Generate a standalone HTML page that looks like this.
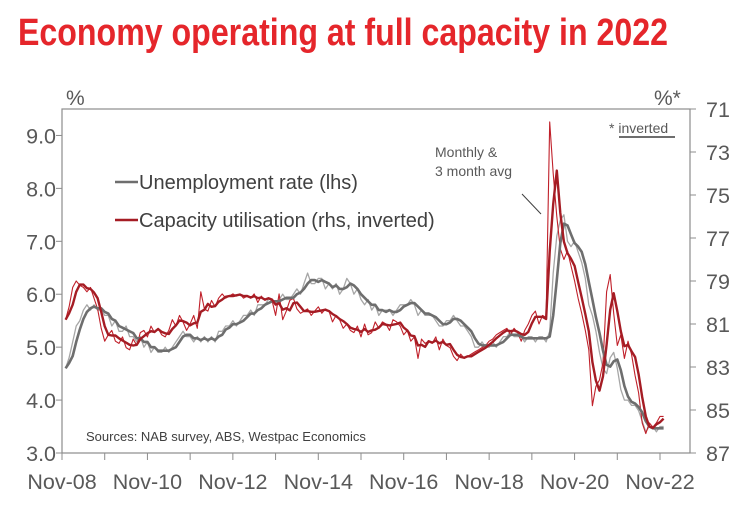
<!DOCTYPE html>
<html><head><meta charset="utf-8"><style>
body{margin:0;background:#fff;width:740px;height:508px;overflow:hidden}
svg{display:block;font-family:"Liberation Sans",sans-serif}
</style></head><body>
<svg id="c" width="740" height="508">
<text x="18" y="45" font-family="'Liberation Sans Narrow','Liberation Sans',sans-serif" font-weight="bold" font-size="38" fill="#e5262b" textLength="650" lengthAdjust="spacingAndGlyphs">Economy operating at full capacity in 2022</text>
</svg>
<script>
const startLabel = ["Nov-08","Nov-10","Nov-12","Nov-14","Nov-16","Nov-18","Nov-20","Nov-22"];
const leftTicks = [3,4,5,6,7,8,9];
const rightTicks = [71,73,75,77,79,81,83,85,87];
const unempMonthly = [
4.6,4.8,5.1,5.4,5.5,5.7,5.8,5.7,5.8,5.7,5.7,5.6,
5.6,5.4,5.5,5.3,5.3,5.4,5.2,5.2,5.1,5.2,5.0,5.1,
4.9,5.0,4.9,4.9,5.0,4.9,5.0,5.1,5.2,5.3,5.2,5.2,
5.1,5.2,5.1,5.2,5.1,5.2,5.1,5.3,5.3,5.4,5.4,5.5,
5.4,5.5,5.6,5.6,5.7,5.6,5.8,5.8,5.8,5.9,5.9,5.8,
5.9,6.0,5.9,5.9,6.0,6.1,6.0,6.2,6.4,6.2,6.2,6.3,
6.3,6.1,6.2,6.1,6.2,6.0,6.1,6.3,6.2,6.0,6.1,5.9,
5.8,5.9,5.7,5.8,5.6,5.7,5.7,5.7,5.6,5.7,5.8,5.8,
5.8,5.9,5.8,5.6,5.7,5.6,5.6,5.6,5.5,5.4,5.4,5.5,
5.5,5.6,5.5,5.4,5.4,5.3,5.2,5.0,5.0,5.1,5.0,5.0,
5.1,5.0,5.1,5.2,5.2,5.3,5.2,5.2,5.2,5.1,5.2,5.2,
5.1,5.2,5.2,5.1,5.3,6.4,7.1,7.4,7.5,7.0,6.9,7.0,
6.8,6.6,6.3,5.8,5.6,5.3,4.9,4.6,4.5,4.8,4.9,4.6,
4.2,4.0,4.0,3.9,3.9,3.8,3.6,3.4,3.5,3.5,3.4,3.5,
3.5];
const capMonthly = [
80.8,80.2,79.3,79.0,79.2,79.3,79.5,79.3,79.8,80.3,81.2,81.8,
81.5,81.3,81.8,81.9,81.6,82.1,82.2,81.7,82.0,81.4,81.3,81.6,
81.1,81.4,81.2,81.5,81.6,81.3,80.8,81.1,80.6,80.9,81.3,81.0,
80.6,81.2,79.5,80.3,80.4,79.9,80.2,79.8,79.6,79.8,79.7,79.6,
79.7,79.6,79.8,79.7,79.8,79.6,80.0,79.7,79.9,79.8,79.9,80.6,
79.6,80.8,80.4,79.9,79.8,80.3,80.5,80.4,80.3,80.6,80.4,80.2,
80.5,80.3,80.4,80.9,80.6,80.8,81.2,81.0,81.3,81.4,81.1,81.6,
81.0,81.5,81.4,80.9,81.2,80.9,81.0,81.3,80.8,80.9,81.1,81.5,
81.3,81.8,81.6,82.6,81.7,81.9,81.8,81.9,81.6,82.2,81.7,82.0,
82.1,82.5,82.7,82.4,82.6,82.5,82.4,82.3,82.2,82.1,82.0,81.8,
81.7,81.5,81.4,81.3,81.2,81.5,81.2,81.4,81.8,81.3,81.0,80.6,
80.4,81.0,80.6,80.7,71.6,74.0,76.0,77.5,78.0,77.6,78.3,79.0,
79.8,80.5,81.3,82.2,84.8,83.9,83.6,82.8,79.5,78.7,80.5,82.0,
81.5,82.6,81.8,82.4,83.4,84.2,85.6,86.1,85.6,85.8,85.6,85.3,
85.3];

const NS="http://www.w3.org/2000/svg";
const svg=document.getElementById('c');
const L=62,R=690,T=109,B=453;
const xM=m=>62+m*(598/168);
const yL=v=>B-(v-3)*(B-T)/6.5;
const yR=v=>T+(v-71)*(B-T)/16;
function el(tag,attrs,txt){const e=document.createElementNS(NS,tag);for(const k in attrs)e.setAttribute(k,attrs[k]);if(txt!=null)e.textContent=txt;svg.appendChild(e);return e;}
function avg3(a){return a.map((v,i)=>{const s=a.slice(Math.max(0,i-2),i+1);return s.reduce((p,q)=>p+q,0)/s.length;});}
function path(vals,ys,color,w,name){
  const d=vals.map((v,i)=>(i?'L':'M')+xM(i+1).toFixed(1)+','+ys(v).toFixed(1)).join('');
  const p=el('path',{d:d,fill:'none',stroke:color,'stroke-width':w,'stroke-linejoin':'round'});
  
  
}
const fr=el('rect',{x:L,y:T,width:R-L,height:B-T,fill:'none',stroke:'#8c8c8c','stroke-width':1.2});


leftTicks.forEach(v=>{
  el('line',{x1:L-6,x2:L,y1:yL(v),y2:yL(v),stroke:'#8c8c8c'});
  const t=el('text',{x:56,y:yL(v)+8,'text-anchor':'end','font-size':21.5,fill:'#595959'},v.toFixed(1));
  
  
});
rightTicks.forEach(v=>{
  el('line',{x1:R,x2:R+6,y1:yR(v),y2:yR(v),stroke:'#8c8c8c'});
  const t=el('text',{x:706,y:yR(v)+8,'font-size':21.5,fill:'#595959'},String(v));
  
  
});
for(let y=0;y<=14;y++){el('line',{x1:xM(y*12),x2:xM(y*12),y1:B,y2:B+7,stroke:'#8c8c8c'});}
startLabel.forEach((s,i)=>{
  const t=el('text',{x:xM(i*24),y:489,'text-anchor':'middle','font-size':21.5,fill:'#595959'},s);
  
  
});
path(unempMonthly,yL,'#a6a6a6',1.3,'unemployment-monthly-line');
path(capMonthly,yR,'#c0202a',1.1,'capacity-monthly-line');
path(avg3(unempMonthly),yL,'#6e6e6e',2.6,'unemployment-3m-avg-line');
path(avg3(capMonthly),yR,'#a51c24',2.4,'capacity-3m-avg-line');
</script>
<svg style="position:absolute;left:0;top:0" width="740" height="508" font-family="'Liberation Sans',sans-serif">
<text x="66" y="105" font-size="21" fill="#595959">%</text>
<text x="654" y="105" font-size="21" fill="#595959">%*</text>
<g>
<line x1="115" y1="182" x2="138" y2="182" stroke="#6e6e6e" stroke-width="2.5"/>
<text x="139" y="189" font-size="20" fill="#404040">Unemployment rate (lhs)</text>
<line x1="115" y1="220" x2="138" y2="220" stroke="#a51c24" stroke-width="2.5"/>
<text x="139" y="227" font-size="20" fill="#404040">Capacity utilisation (rhs, inverted)</text>
</g>
<text x="435" y="157" font-size="14" fill="#595959">Monthly &amp;</text>
<text x="435" y="176" font-size="14" fill="#595959">3 month avg</text>
<line x1="522" y1="194" x2="541" y2="214" stroke="#404040" stroke-width="1"/>
<text x="609" y="133" font-size="14" fill="#595959">* inverted</text>
<line x1="619" y1="137" x2="675" y2="137" stroke="#595959" stroke-width="1.8"/>
<text x="86" y="441" font-size="13" fill="#404040">Sources: NAB survey, ABS, Westpac Economics</text>
</svg>
</body></html>
